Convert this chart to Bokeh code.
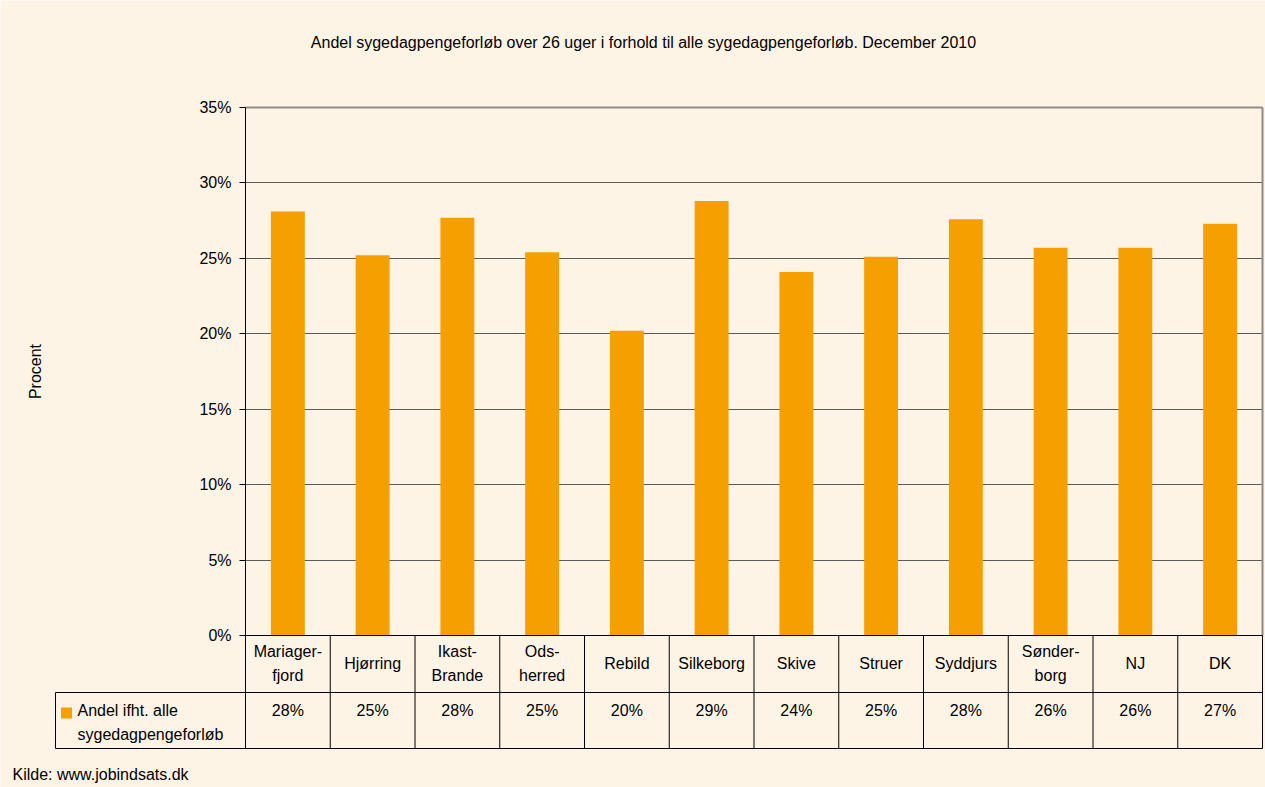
from bokeh.plotting import figure
from bokeh.models import Range1d, FixedTicker, PrintfTickFormatter, Label, ColumnDataSource
from bokeh.core.properties import value
from bokeh.embed import file_html
from bokeh.resources import INLINE

# ---- data ----
categories = ["Mariager-\nfjord", "Hjørring", "Ikast-\nBrande", "Ods-\nherred", "Rebild",
              "Silkeborg", "Skive", "Struer", "Syddjurs", "Sønder-\nborg", "NJ", "DK"]
shares = [28.1, 25.2, 27.7, 25.4, 20.2, 28.8, 24.1, 25.1, 27.6, 25.7, 25.7, 27.3]
value_labels = ["28%", "25%", "28%", "25%", "20%", "29%", "24%", "25%", "28%", "26%", "26%", "27%"]
y_ticks = [0, 5, 10, 15, 20, 25, 30, 35]
series_name = "Andel ifht. alle\nsygedagpengeforløb"
title_text = "Andel sygedagpengeforløb over 26 uger i forhold til alle sygedagpengeforløb. December 2010"
source_text = "Kilde: www.jobindsats.dk"
y_label = "Procent"

# ---- layout helpers (page pixels -> data) ----
W, H, M = 1265, 787, 0
AX_X, RIGHT_X = 245, 1262
Y0_PX, Y35_PX = 635, 107
ppu_x = (RIGHT_X - AX_X) / len(categories)
ppu_y = (Y0_PX - Y35_PX) / 35.0

def px(xp):
    return (xp - AX_X) / ppu_x

def py(yp):
    return (Y0_PX - yp) / ppu_y

BG = "#FDF4E6"
BAR = "#F5A000"
FONT = value("Liberation Sans")
FS = value("16px")

p = figure(width=W, height=H, output_backend="svg", toolbar_location=None, title=None,
           x_range=Range1d(px(M), px(M + W)), y_range=Range1d(py(M + H), py(M)),
           x_axis_location=None, min_border=0)
p.min_border_left = p.min_border_right = p.min_border_top = p.min_border_bottom = 0
p.background_fill_color = BG
p.border_fill_color = BG
p.outline_line_color = None
p.xgrid.visible = False

n = len(categories)
xc = [i + 0.5 for i in range(n)]

# y axis at x = 0
ax = p.yaxis[0]
ax.fixed_location = 0
ax.bounds = (0, 35)
ax.ticker = FixedTicker(ticks=y_ticks)
ax.formatter = PrintfTickFormatter(format="%d%%")
ax.major_label_text_font = "Liberation Sans"
ax.major_label_text_font_size = "16px"
ax.major_label_text_color = "black"
ax.major_tick_out = 6
ax.major_tick_in = 0
ax.minor_tick_line_color = None
ax.axis_line_color = "black"
ax.major_tick_line_color = "black"
ax.major_label_standoff = 8
ax.axis_label = y_label
ax.axis_label_text_font = "Liberation Sans"
ax.axis_label_text_font_size = "16px"
ax.axis_label_text_font_style = "normal"
ax.axis_label_text_color = "black"
ax.axis_label_standoff = 152

g = p.ygrid[0]
g.ticker = FixedTicker(ticks=y_ticks)
g.grid_line_color = "#5a5a5a"
g.bounds = (0, 35)
g.cross_bounds = (0, n)

# bars
src = ColumnDataSource(dict(x=xc, top=shares, cat=categories, lab=value_labels))
p.vbar(x="x", top="top", bottom=0, width=0.4, source=src, fill_color=BAR, line_color=None)

# plot-area border (top & right)
p.segment(x0=[0, n], y0=[35, 0], x1=[n, n], y1=[35, 35], line_color="#8c8c8c", line_width=2)

# data table
y_row = py(692)
y_bot = py(748)
x_left = px(55)
vx = list(range(n + 1))
p.segment(x0=vx, y0=[0] * len(vx), x1=vx, y1=[y_bot] * len(vx), line_color="black", line_width=1)
p.segment(x0=[0, x_left, x_left, x_left], y0=[0, y_row, y_bot, y_row],
          x1=[n, n, n, x_left], y1=[0, y_row, y_bot, y_bot], line_color="black", line_width=1)

p.text(x="x", y=py(663), text="cat", source=src, text_align="center", text_baseline="middle",
       text_font=FONT, text_font_size=FS, text_color="black", text_line_height=1.45)
p.text(x="x", y=py(710), text="lab", source=src, text_align="center", text_baseline="middle",
       text_font=FONT, text_font_size=FS, text_color="black")

p.scatter(x=[px(66)], y=[py(712.5)], marker="square", size=11, fill_color=BAR, line_color=None)
p.text(x=[px(77)], y=[py(722)], text=[series_name], text_align="left", text_baseline="middle",
       text_font=FONT, text_font_size=FS, text_color="black", text_line_height=1.45)

p.add_layout(Label(x=px(643), y=py(42), text=title_text, text_align="center", text_baseline="middle",
                   text_font="Liberation Sans", text_font_size="16px", text_color="black"))
p.add_layout(Label(x=px(12), y=py(774), text=source_text, text_align="left", text_baseline="middle",
                   text_font="Liberation Sans", text_font_size="16px", text_color="black"))

open("out.html", "w").write(file_html(p, INLINE))
